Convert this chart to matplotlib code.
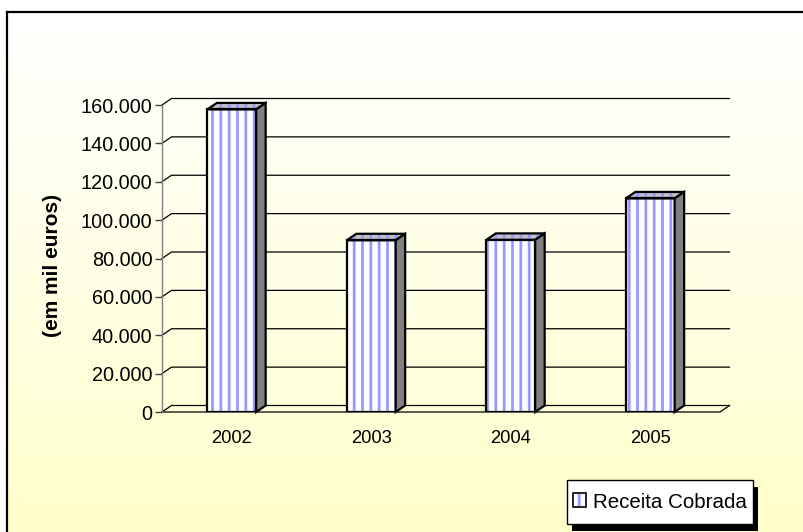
import numpy as np
import matplotlib.pyplot as plt
from matplotlib.patches import Polygon, Rectangle, Patch
from matplotlib.legend_handler import HandlerTuple
from matplotlib.ticker import FuncFormatter

anos = ['2002', '2003', '2004', '2005']
receita = [157700, 89500, 89700, 111300]
escala = [0, 20000, 40000, 60000, 80000, 100000, 120000, 140000, 160000]

plt.rcParams['font.family'] = ['Liberation Sans', 'DejaVu Sans']
plt.rcParams['hatch.linewidth'] = 2.0

W, H = 804, 532
fig = plt.figure(figsize=(W / 100, H / 100), dpi=100)
fig.patch.set_facecolor('white')

# fundo com degradê branco -> amarelo claro
bg = fig.add_axes([7 / W, 0, 1 - 7 / W, 520 / H])
t = np.linspace(0, 1, 256)
grad = np.ones((256, 1, 3))
grad[:, 0, 2] = 1 - 0.2 * t
bg.imshow(grad, aspect='auto', extent=[0, 1, 0, 1], origin='upper')
bg.set_xticks([])
bg.set_yticks([])
for s in ['right', 'bottom']:
    bg.spines[s].set_visible(False)
for s in ['left', 'top']:
    bg.spines[s].set_linewidth(1.6)
    bg.spines[s].set_color('black')

ax = fig.add_axes([162 / W, 120 / H, 558 / W, 307 / H])
ax.set_xlim(-0.5, 3.5)
ax.set_ylim(0, 160000)
ax.patch.set_visible(False)
for s in ['right', 'top', 'bottom']:
    ax.spines[s].set_visible(False)
ax.spines['left'].set_color('#808080')
ax.spines['left'].set_linewidth(1.0)

# profundidade do efeito 3D (em unidades de dados)
px_x = 4.0 / 558
px_y = 160000 / 307
dx = 9.5 * px_x
dy = 6.5 * px_y

# parede do fundo e chão
for v in escala:
    ax.plot([-0.5, -0.5 + dx, 3.5 + dx], [v, v + dy, v + dy],
            color='black', lw=0.9, clip_on=False, zorder=1)
ax.plot([-0.5, 3.5, 3.5 + dx], [0, 0, dy], color='black', lw=0.9,
        clip_on=False, zorder=1)

x = np.arange(len(anos))
w = 0.35
azul = '#9999ff'

ax.bar(x, receita, width=w, color='white', edgecolor=azul, hatch='||',
       linewidth=0, zorder=3)
ax.bar(x, receita, width=w, fill=False, edgecolor='black', linewidth=1.6,
       zorder=4)

for xi, v in zip(x, receita):
    xl, xr = xi - w / 2, xi + w / 2
    topo = [(xl, v), (xr, v), (xr + dx, v + dy), (xl + dx, v + dy)]
    lado = [(xr, 0), (xr + dx, dy), (xr + dx, v + dy), (xr, v)]
    ax.add_patch(Polygon(topo, closed=True, facecolor='#c0c0c0',
                         edgecolor=azul, hatch='||', lw=0, zorder=3,
                         clip_on=False))
    ax.add_patch(Polygon(topo, closed=True, fill=False, edgecolor='black',
                         lw=1.6, zorder=4, clip_on=False))
    ax.add_patch(Polygon(lado, closed=True, facecolor='#808080',
                         edgecolor='black', lw=1.6, zorder=4, clip_on=False))

ax.set_yticks(escala)
ax.yaxis.set_major_formatter(
    FuncFormatter(lambda v, p: f'{v:,.0f}'.replace(',', '.')))
ax.tick_params(axis='y', length=5, width=1, color='#404040', pad=2,
               labelsize=14.3)
ax.set_xticks(x)
ax.set_xticklabels(anos)
ax.tick_params(axis='x', length=0, pad=13, labelsize=13.2)

ax.set_ylabel('(em mil euros)', fontsize=15, fontweight='bold')
ax.yaxis.set_label_coords(-0.1800, 0.479)

h_hatch = Patch(facecolor='white', edgecolor=azul, hatch='||', lw=0)
h_borda = Patch(fill=False, edgecolor='black', lw=1.2)
leg = fig.legend([(h_hatch, h_borda)], ['Receita Cobrada'],
                 handler_map={tuple: HandlerTuple(ndivide=1)},
                 loc='center', bbox_to_anchor=(660 / W, 30 / H),
                 fontsize=14.8, frameon=False,
                 handlelength=0.65, handleheight=0.65, handletextpad=0.35,
                 borderpad=0.3, borderaxespad=0)

# moldura e sombra preta da legenda
fig.canvas.draw()
bb = leg.get_window_extent()
folga = 6
z = leg.get_zorder()
fig.patches.append(Rectangle((bb.x0 + 5, bb.y0 - folga - 7), bb.width,
                             bb.height + 2 * folga, transform=None,
                             facecolor='black', edgecolor='none',
                             zorder=z - 0.6))
fig.patches.append(Rectangle((bb.x0, bb.y0 - folga), bb.width,
                             bb.height + 2 * folga, transform=None,
                             facecolor='white', edgecolor='black', lw=1.0,
                             zorder=z - 0.5))

fig.savefig('out.png', dpi=100)
